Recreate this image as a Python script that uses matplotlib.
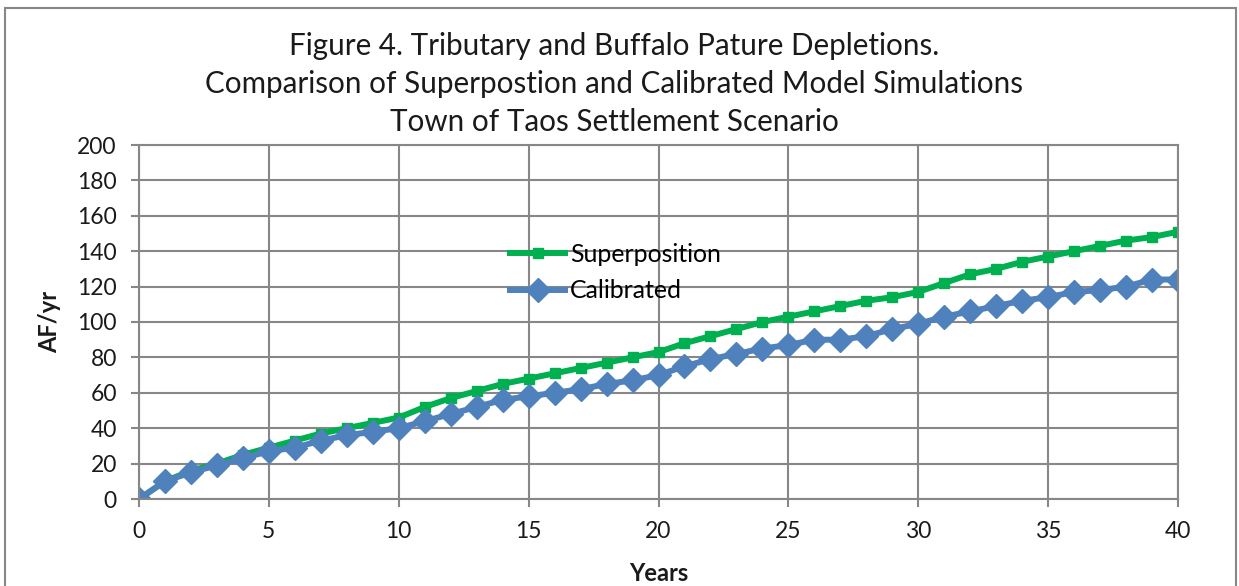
import matplotlib.pyplot as plt
import numpy as np
from matplotlib.patches import Rectangle

years = np.arange(0, 41)
superposition = [0, 10, 16, 20, 25, 29, 33, 37, 40, 43, 46, 52, 57, 61, 65, 68, 71, 74, 77, 80,
                 83, 88, 92, 96, 100, 103, 106, 109, 112, 114, 117, 122, 127, 130, 134, 137, 140,
                 143, 146, 148, 151]
calibrated = [0, 10, 15, 19, 23, 27, 29, 33, 36, 38, 40, 44, 48, 52, 56, 58, 60, 62, 65, 67,
              70, 75, 79, 82, 85, 87, 90, 90, 92, 96, 99, 103, 106, 109, 112, 114, 117, 118,
              120, 124, 124]

plt.rcParams['font.family'] = ['Lato', 'DejaVu Sans']

fig = plt.figure(figsize=(12.39, 5.86), dpi=100)
ax = fig.add_axes([139/1239, 1 - 499/586, (1178 - 139)/1239, (499 - 145)/586])

ax.plot(years, superposition, color='#00b050', lw=4.3, marker='s', ms=7, label='Superposition')
ax.plot(years, calibrated, color='#4f81bd', lw=4.3, marker='D', ms=12, label='Calibrated')

ax.set_xlim(0, 40)
ax.set_ylim(0, 200)
ax.set_xticks(np.arange(0, 41, 5))
ax.set_yticks(np.arange(0, 201, 20))
ax.grid(True, color='#878787', lw=1.5)
ax.set_axisbelow(True)
for s in ax.spines.values():
    s.set_color('#878787')
    s.set_linewidth(1.5)
ax.tick_params(labelsize=16.5, color='#878787', width=1.5, length=6, pad=10,
               labelcolor='#1a1a1a')

ax.set_xlabel('Years', fontsize=17, fontweight='bold', color='#1a1a1a')
ax.set_ylabel('AF/yr', fontsize=17, fontweight='bold', color='#1a1a1a')
ax.xaxis.set_label_coords(0.5, (499 - 562)/354)
ax.yaxis.set_label_coords((61 - 139)/1039, 0.5)

fig.text(0.4956, 1 - 84/586,
         'Figure 4. Tributary and Buffalo Pature Depletions.\n'
         'Comparison of Superpostion and Calibrated Model Simulations\n'
         'Town of Taos Settlement Scenario',
         ha='center', va='center', fontsize=21.3, linespacing=1.45, color='#1a1a1a')

ax.legend(loc='upper left', bbox_to_anchor=(0.336, 0.787), frameon=False, fontsize=17.9,
          handlelength=2.2, handletextpad=0.2, labelspacing=0.55)

fig.add_artist(Rectangle((5/1239, -0.01), 1231/1239, 1 - 8/586 + 0.01, transform=fig.transFigure,
                         fill=False, edgecolor='#878787', lw=1.5))

fig.savefig('out.png', dpi=100)
